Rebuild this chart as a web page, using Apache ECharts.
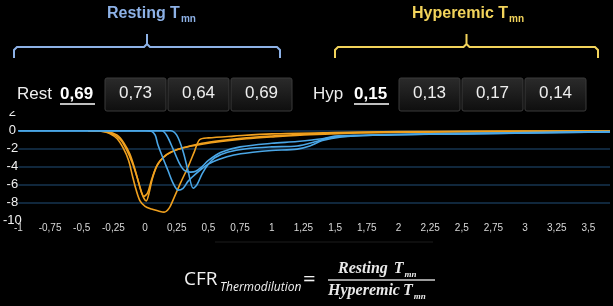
<!DOCTYPE html>
<html>
<head>
<meta charset="utf-8">
<script src="https://cdn.jsdelivr.net/npm/echarts@6/dist/echarts.min.js"></script>
<style>
  html, body { margin: 0; padding: 0; background: #000; }
  #chart { width: 613px; height: 306px; }
</style>
</head>
<body>
<div id="chart"></div>
<script>
// thermodilution curves, [time, temperature change]
const restA = [[-1, 0], [0, 0], [0.05, -0.05], [0.08, -0.5], [0.1, -1.5], [0.14, -3], [0.18, -4.4], [0.22, -5.8], [0.26, -6.6], [0.3, -6.4], [0.34, -5.6], [0.4, -4.8], [0.45, -4.2], [0.5, -3.7], [0.58, -3.2], [0.7, -2.7], [0.85, -2.4], [1.0, -2.2], [1.2, -2.05], [1.3, -1.7], [1.4, -1.1], [1.55, -0.7], [1.8, -0.5], [2.2, -0.4], [2.8, -0.3], [3.67, -0.15]]
const restB = [[-1, 0], [0.13, 0], [0.17, -0.5], [0.22, -2], [0.27, -3.6], [0.31, -4.4], [0.36, -4.6], [0.4, -4.5], [0.45, -4.0], [0.5, -3.3], [0.6, -2.4], [0.75, -1.8], [1.0, -1.4], [1.2, -1.2], [1.4, -0.9], [1.5, -0.6], [1.7, -0.5], [2.0, -0.4], [2.5, -0.3], [3.0, -0.2], [3.67, -0.1]]
const restC = [[-1, 0], [0.2, 0], [0.25, -0.5], [0.3, -2.3], [0.34, -4.5], [0.38, -6.4], [0.41, -6.0], [0.45, -4.8], [0.5, -3.7], [0.55, -3.0], [0.65, -2.4], [0.8, -2.0], [1.0, -1.8], [1.2, -1.7], [1.35, -1.2], [1.45, -0.8], [1.6, -0.6], [2.0, -0.45], [2.5, -0.35], [3.0, -0.25], [3.67, -0.15]]
const hypA = [[-0.45, 0], [-0.35, -0.05], [-0.28, -0.3], [-0.22, -0.9], [-0.17, -2.0], [-0.13, -3.3], [-0.1, -5.0], [-0.07, -6.6], [-0.04, -7.8], [0, -8.4], [0.05, -8.7], [0.1, -8.9], [0.15, -9.05], [0.19, -8.6], [0.23, -7.4], [0.28, -5.8], [0.34, -4.0], [0.39, -2.3], [0.43, -1.0], [0.5, -0.8], [0.7, -0.6], [1.0, -0.35], [1.5, -0.2], [2.0, -0.1], [3.0, -0.05], [3.67, -0.05]]
const hypB = [[-0.45, 0], [-0.3, -0.1], [-0.22, -0.5], [-0.17, -1.3], [-0.12, -2.6], [-0.08, -4.3], [-0.04, -6.3], [-0.01, -7.5], [0.01, -7.8], [0.03, -7.0], [0.06, -5.2], [0.1, -3.7], [0.15, -2.9], [0.22, -2.3], [0.3, -1.9], [0.45, -1.4], [0.6, -1.1], [0.8, -0.8], [1.0, -0.6], [1.3, -0.35], [1.7, -0.2], [2.5, -0.1], [3.67, -0.05]]
const hypC = [[-0.45, 0], [-0.3, -0.15], [-0.2, -0.9], [-0.15, -2.0], [-0.1, -3.6], [-0.06, -5.3], [-0.03, -6.8], [-0.01, -7.3], [0.02, -6.9], [0.05, -5.5], [0.09, -4.0], [0.14, -3.0], [0.2, -2.4], [0.3, -1.9], [0.45, -1.5], [0.6, -1.2], [0.8, -0.9], [1.0, -0.7], [1.3, -0.45], [1.7, -0.25], [2.5, -0.12], [3.67, -0.05]]

const restMean = '0,69'
const restValues = ['0,73', '0,64', '0,69']
const hypMean = '0,15'
const hypValues = ['0,13', '0,17', '0,14']

const BLUE = '#4aa6e6'
const ORANGE = '#f0a01e'
const narrow = '"Liberation Sans Narrow", "Liberation Sans", Arial, sans-serif'
const sans = '"Liberation Sans", Arial, sans-serif'
const serif = '"Liberation Serif", "DejaVu Serif", serif'

const ctx = document.createElement('canvas').getContext('2d')
function textWidth(txt, font) {
  ctx.font = font
  return ctx.measureText(txt).width
}

function curve(data, color) {
  return {
    type: 'line',
    data: data,
    smooth: 0.3,
    symbol: 'none',
    animation: false,
    lineStyle: { color: color, width: 1.6 }
  }
}

function valueBox(x, txt) {
  return [{
    type: 'rect',
    shape: { x: x, y: 78, width: 61, height: 33, r: 2 },
    style: {
      fill: new echarts.graphic.LinearGradient(0, 0, 0, 1, [
        { offset: 0, color: '#2b2b2b' }, { offset: 1, color: '#0e0e0e' }
      ]),
      stroke: '#3a3a3a', lineWidth: 1
    }
  }, {
    type: 'text', x: x + 30.5, y: 93,
    style: { text: txt, fill: '#eeeeee', font: '17px ' + sans, align: 'center', verticalAlign: 'middle' }
  }]
}

function brace(x1, x2, color) {
  const mid = (x1 + x2) / 2
  return {
    type: 'polyline',
    shape: { points: [[x1, 58], [x1, 50], [x1 + 3, 47], [mid - 3, 47], [mid, 44], [mid, 34], [mid, 44], [mid + 3, 47], [x2 - 3, 47], [x2, 50], [x2, 58]] },
    style: { stroke: color, lineWidth: 2, fill: null }
  }
}

// title with a small "mn" subscript just after it
function header(left, title, color) {
  const font = 'bold 16px ' + narrow
  const w = textWidth(title, font)
  return [{
    type: 'text', x: left, y: 14,
    style: { text: title, fill: color, font: font, align: 'left', verticalAlign: 'middle' }
  }, {
    type: 'text', x: left + w + 1, y: 19,
    style: { text: 'mn', fill: color, font: 'bold 10px ' + narrow, align: 'left', verticalAlign: 'middle' }
  }]
}

// italic T with subscript, placed after a word
function fracLine(left, y, word, tGap) {
  const font = 'italic bold 16px ' + serif
  const w = textWidth(word, font)
  const tx = left + w + tGap
  const tw = textWidth('T', font)
  return [
    { type: 'text', x: left, y: y, style: { text: word, fill: '#e8e8e8', font: font, verticalAlign: 'middle' } },
    { type: 'text', x: tx, y: y, style: { text: 'T', fill: '#e8e8e8', font: font, verticalAlign: 'middle' } },
    { type: 'text', x: tx + tw + 1, y: y + 6, style: { text: 'mn', fill: '#e8e8e8', font: 'italic bold 9px ' + serif, verticalAlign: 'middle' } }
  ]
}

const chart = echarts.init(document.getElementById('chart'), null, { renderer: 'canvas' })

const graphics = [
  // black band over the top of the plot
  { type: 'rect', shape: { x: 0, y: 0, width: 613, height: 111 }, style: { fill: '#000' }, z: 50 },
  ...header(107, 'Resting T', '#8db1e6'),
  ...header(412, 'Hyperemic T', '#f2d35b'),
  brace(14, 280, '#8db1e6'),
  brace(335, 598, '#f2d35b'),
  { type: 'text', x: 17, y: 94, style: { text: 'Rest', fill: '#eeeeee', font: '17px ' + sans, verticalAlign: 'middle' } },
  { type: 'text', x: 60, y: 94, style: { text: restMean, fill: '#ffffff', font: 'bold 17px ' + sans, verticalAlign: 'middle' } },
  { type: 'line', shape: { x1: 60, y1: 104, x2: 95, y2: 104 }, style: { stroke: '#ffffff', lineWidth: 1.5 } },
  ...valueBox(105, restValues[0]),
  ...valueBox(168, restValues[1]),
  ...valueBox(231, restValues[2]),
  { type: 'text', x: 313, y: 94, style: { text: 'Hyp', fill: '#eeeeee', font: '17px ' + sans, verticalAlign: 'middle' } },
  { type: 'text', x: 354, y: 94, style: { text: hypMean, fill: '#ffffff', font: 'bold 17px ' + sans, verticalAlign: 'middle' } },
  { type: 'line', shape: { x1: 354, y1: 104, x2: 389, y2: 104 }, style: { stroke: '#ffffff', lineWidth: 1.5 } },
  ...valueBox(399, hypValues[0]),
  ...valueBox(462, hypValues[1]),
  ...valueBox(525, hypValues[2]),
  // faint rule under the axis
  { type: 'line', shape: { x1: 215, y1: 242, x2: 433, y2: 242 }, style: { stroke: '#1c1c1c', lineWidth: 1 } },
  // formula
  { type: 'text', x: 184, y: 280, style: { text: 'CFR', fill: '#f2f2f2', font: '19px "Open Sans", "Noto Sans", sans-serif', verticalAlign: 'middle' } },
  { type: 'text', x: 220, y: 288, style: { text: 'Thermodilution', fill: '#f2f2f2', font: 'italic 12px "Open Sans", "Noto Sans", sans-serif', verticalAlign: 'middle' } },
  { type: 'text', x: 303, y: 280, style: { text: '=', fill: '#f2f2f2', font: '22px "Open Sans", "Noto Sans", sans-serif', verticalAlign: 'middle' } },
  ...fracLine(338, 269, 'Resting', 6),
  { type: 'line', shape: { x1: 328, y1: 280, x2: 435, y2: 280 }, style: { stroke: '#cfcfcf', lineWidth: 1.5 } },
  ...fracLine(328, 291, 'Hyperemic', 3)
]
// keep header/boxes above the band
graphics.forEach((g, i) => { if (i > 0 && g.z == null) g.z = 60 })

const options = {
  backgroundColor: '#000',
  grid: { left: 15, right: 0, top: 112.7, bottom: 85.3 },
  xAxis: {
    type: 'value',
    min: -1,
    max: 3.67,
    interval: 0.25,
    axisLine: { show: false },
    axisTick: { show: false },
    splitLine: { show: false },
    axisLabel: {
      color: '#d8d8d8',
      fontSize: 10,
      fontFamily: 'Arial, "Liberation Sans", sans-serif',
      margin: 3,
      formatter: v => Math.abs(v * 4 - Math.round(v * 4)) < 1e-6 ? String(v).replace('.', ',') : ''
    }
  },
  yAxis: {
    type: 'value',
    min: -10,
    max: 2,
    interval: 2,
    axisLine: { show: false },
    axisTick: { show: false },
    axisLabel: { color: '#f0f0f0', fontSize: 13, fontFamily: 'Arial, "Liberation Sans", sans-serif', align: 'center', margin: 6 },
    splitLine: {
      lineStyle: { color: ['rgba(0,0,0,0)', '#163551', '#163551', '#163551', '#163551', '#163551', 'rgba(0,0,0,0)'], width: 1.5 }
    }
  },
  series: [
    curve(hypA, ORANGE), curve(hypB, ORANGE), curve(hypC, ORANGE),
    curve(restA, BLUE), curve(restB, BLUE), curve(restC, BLUE)
  ],
  graphic: graphics
}

options && chart.setOption(options)
</script>
</body>
</html>
